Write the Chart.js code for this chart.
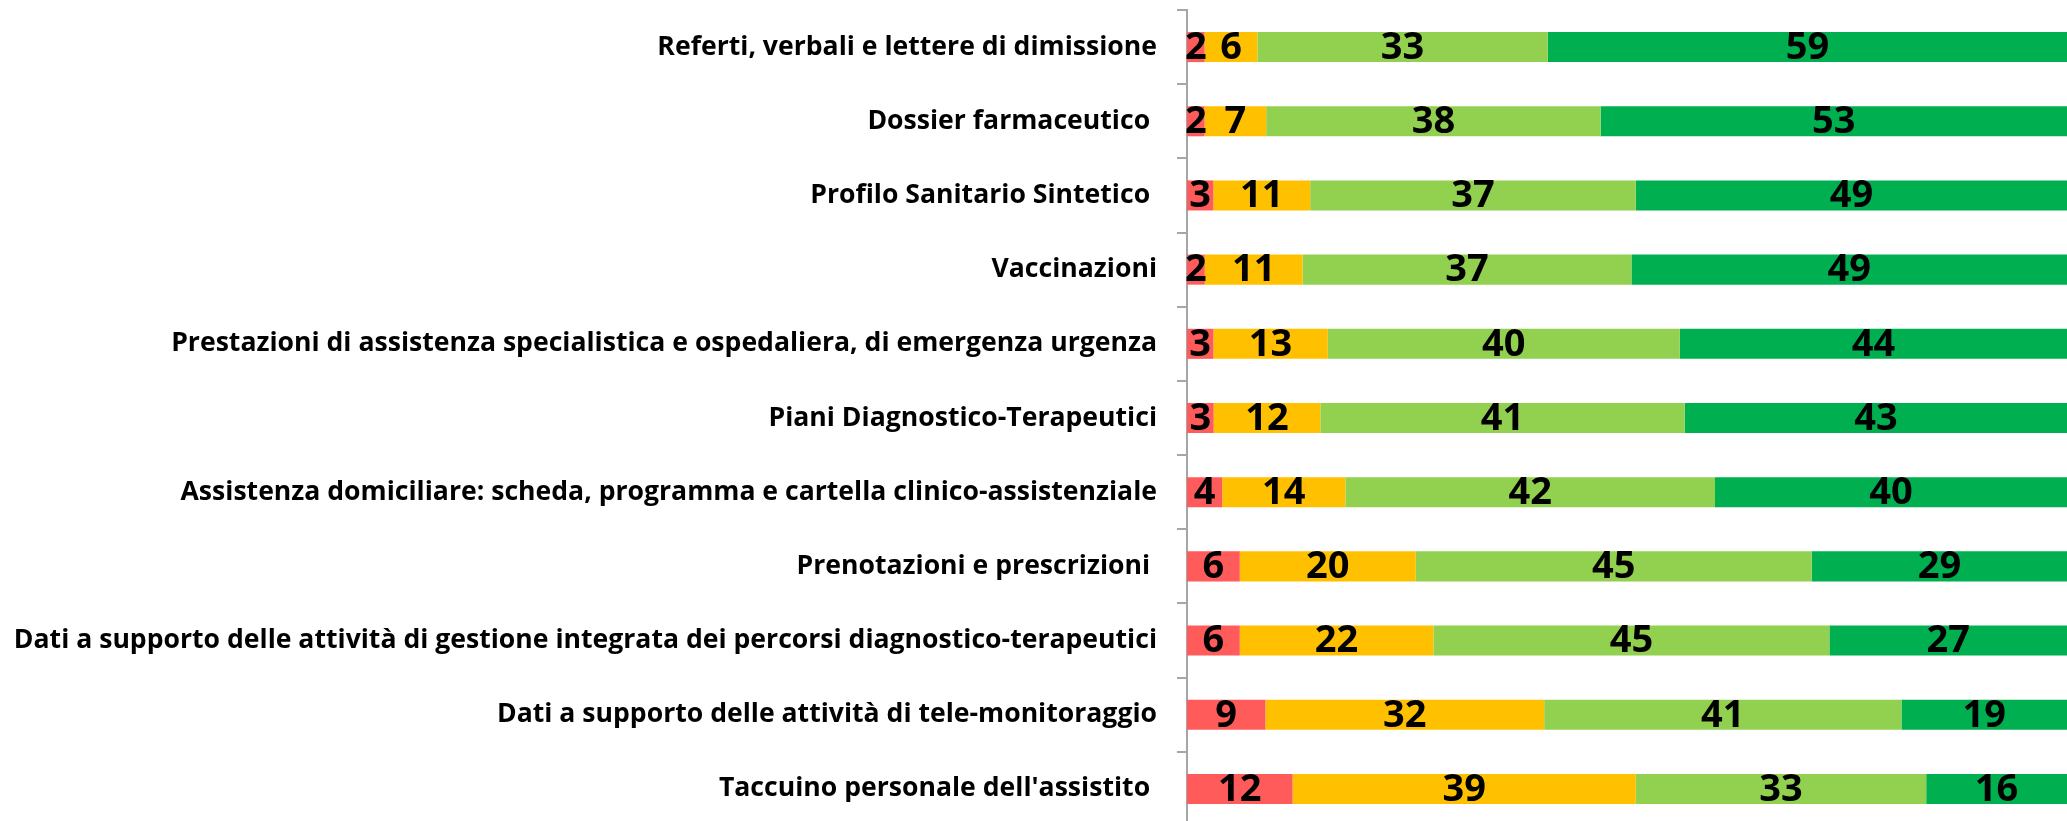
<!DOCTYPE html>
<html lang="it">
<head>
    <meta charset="UTF-8">
    <title>Fascicolo Sanitario - contenuti</title>
    <script src="https://cdn.jsdelivr.net/npm/chart.js"></script>
    <style>
        body { margin: 0; overflow: hidden; background: #fff; }
    </style>
</head>
<body>
    <canvas id="fseChart" width="2067" height="826"></canvas>
    <script>
        const categories = [
            'Referti, verbali e lettere di dimissione',
            'Dossier farmaceutico ',
            'Profilo Sanitario Sintetico ',
            'Vaccinazioni',
            'Prestazioni di assistenza specialistica e ospedaliera, di emergenza urgenza',
            'Piani Diagnostico-Terapeutici',
            'Assistenza domiciliare: scheda, programma e cartella clinico-assistenziale',
            'Prenotazioni e prescrizioni ',
            'Dati a supporto delle attività di gestione integrata dei percorsi diagnostico-terapeutici',
            'Dati a supporto delle attività di tele-monitoraggio',
            "Taccuino personale dell'assistito "
        ];

        const redValues = [2, 2, 3, 2, 3, 3, 4, 6, 6, 9, 12];
        const orangeValues = [6, 7, 11, 11, 13, 12, 14, 20, 22, 32, 39];
        const lightGreenValues = [33, 38, 37, 37, 40, 41, 42, 45, 45, 41, 33];
        const greenValues = [59, 53, 49, 49, 44, 43, 40, 29, 27, 19, 16];

        const seriesValues = [redValues, orangeValues, lightGreenValues, greenValues];
        const seriesColors = ['#FF5B5B', '#FFC000', '#92D050', '#00B050'];

        // 100% stacked: each row is scaled to its own total
        const rowTotals = categories.map((c, i) =>
            seriesValues.reduce((sum, s) => sum + s[i], 0));

        const datasets = seriesValues.map((values, k) => ({
            label: 'serie ' + (k + 1),
            data: values.map((v, i) => v / rowTotals[i] * 100),
            raw: values,
            backgroundColor: seriesColors[k],
            borderWidth: 0,
            categoryPercentage: 1,
            barPercentage: 0.405
        }));

        // draw the value in the middle of each segment
        const valueLabels = {
            id: 'valueLabels',
            afterDatasetsDraw(chart) {
                const ctx = chart.ctx;
                ctx.save();
                ctx.font = 'bold 38px "Open Sans"';
                ctx.fillStyle = '#000';
                ctx.textAlign = 'center';
                ctx.textBaseline = 'middle';
                chart.data.datasets.forEach((ds, k) => {
                    chart.getDatasetMeta(k).data.forEach((bar, i) => {
                        const cx = (bar.x + bar.base) / 2;
                        ctx.fillText(String(ds.raw[i]), cx, bar.y + 1);
                    });
                });
                ctx.restore();
            }
        };

        new Chart(document.getElementById('fseChart'), {
            type: 'bar',
            data: { labels: categories, datasets: datasets },
            plugins: [valueLabels],
            options: {
                indexAxis: 'y',
                responsive: false,
                animation: false,
                layout: { padding: { top: 10, left: 0, right: 0, bottom: 0 } },
                plugins: {
                    legend: { display: false },
                    tooltip: { enabled: false }
                },
                scales: {
                    x: {
                        stacked: true,
                        min: 0,
                        max: 100,
                        display: false
                    },
                    y: {
                        stacked: true,
                        afterFit(scale) {
                            scale.width = 1187;
                            scale.paddingTop = 0;
                            scale.paddingBottom = 0;
                        },
                        border: { display: true, color: '#A6A6A6', width: 2 },
                        grid: {
                            offset: true,
                            drawOnChartArea: false,
                            drawTicks: true,
                            tickLength: 10,
                            color: '#A6A6A6',
                            lineWidth: 2
                        },
                        ticks: {
                            color: '#000',
                            padding: 20,
                            font: { family: 'Open Sans', weight: 'bold', size: 26.6 },
                            autoSkip: false
                        }
                    }
                }
            }
        });
    </script>
</body>
</html>
